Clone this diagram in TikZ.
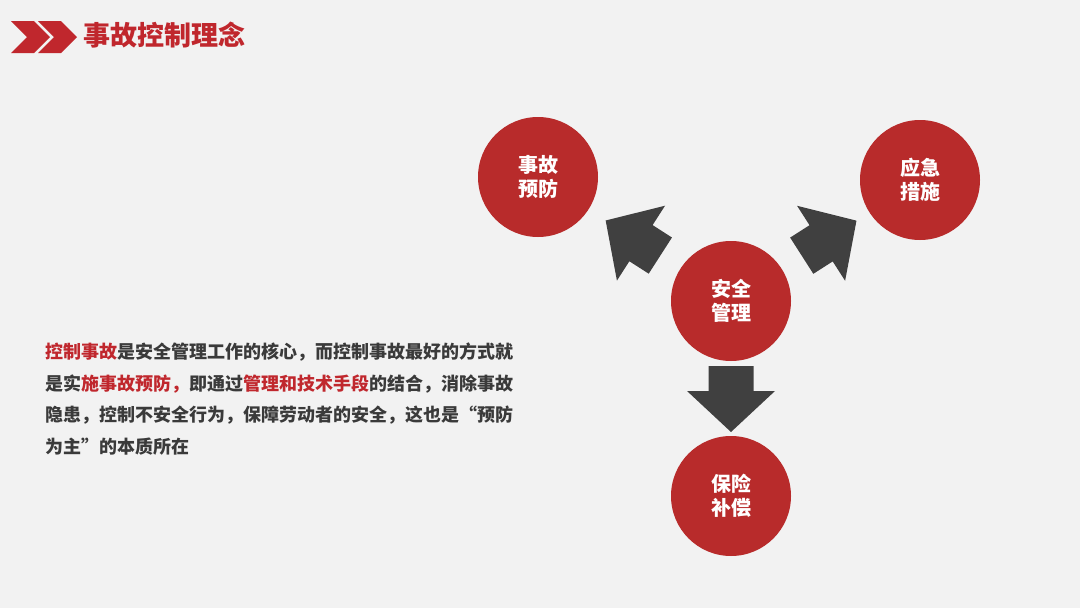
\documentclass[tikz,border=0pt]{standalone}
\usepackage{fontspec}
\newfontfamily\cjk{Noto Sans CJK SC}[RawFeature=+fwid]
\usetikzlibrary{calc}
\definecolor{bg}{HTML}{F2F2F2}
\definecolor{cred}{HTML}{B82B2B}
\definecolor{tred}{HTML}{C0272D}
\definecolor{arrc}{HTML}{404040}
\definecolor{txt}{HTML}{3A3A3A}
\newcommand\blockarrow[7]{% from, to, base dist, head dist, tip dist, shaft half, head half
  \coordinate (ab) at ($(#1)!#3!(#2)$);
  \coordinate (ah) at ($(#1)!#4!(#2)$);
  \coordinate (at) at ($(#1)!#5!(#2)$);
  \fill[arr] ($(ab)!#6!90:(#2)$) -- ($(ah)!#6!90:(#2)$) -- ($(ah)!#7!90:(#2)$) -- (at)
    -- ($(ah)!#7!-90:(#2)$) -- ($(ah)!#6!-90:(#2)$) -- ($(ab)!#6!-90:(#2)$) -- cycle;}
\begin{document}
\begin{tikzpicture}[x=1pt,y=-1pt,
  circ/.style={circle, fill=cred, minimum size=120pt, inner sep=0pt, text=white,
    font=\cjk\bfseries\fontsize{20}{24}\selectfont, align=center},
  arr/.style={fill=arrc},
  chev/.style={fill=tred},
  body/.style={anchor=base west, inner sep=0pt, text=txt, font=\cjk\bfseries\fontsize{18}{18}\selectfont},
  hl/.style={}]
\fill[bg] (0,0) rectangle (1080,608);
\useasboundingbox (0,0) rectangle (1080,608);
% header chevrons
\fill[chev] (11,21) -- (34,21) -- (50,37) -- (34,53) -- (11,53) -- (27,37) -- cycle;
\fill[chev] (38,21) -- (61,21) -- (77,37) -- (61,53) -- (38,53) -- (54,37) -- cycle;
\node[anchor=base west, inner sep=0pt, text=tred, font=\cjk\bfseries\fontsize{27}{27}\selectfont] (title) at (83,45.5) {事故控制理念};
% circles
\node[circ] (c) at (731,301) {安全\\管理};
\node[circ] (a) at (538,177) {事故\\预防};
\node[circ] (b) at (920,180) {应急\\措施};
\node[circ] (d) at (731,496) {保险\\补偿};
% block arrows
\blockarrow{c}{a}{84pt}{107pt}{149pt}{21.5pt}{44.5pt}
\blockarrow{c}{b}{84pt}{107pt}{149pt}{21.5pt}{44.5pt}
\blockarrow{c}{d}{65pt}{90pt}{131pt}{22.5pt}{44pt}
% body text
\node[body] (l1) at (45,358.5) {{\color{tred}控制事故}是安全管理工作的核心，而控制事故最好的方式就};
\node[body] (l2) at (45,390) {是实{\color{tred}施事故预防，}即通过{\color{tred}管理和技术手段}的结合，消除事故};
\node[body] (l3) at (45,421.8) {隐患，控制不安全行为，保障劳动者的安全，这也是“预防};
\node[body] (l4) at (45,453.5) {为主”的本质所在};
\end{tikzpicture}
\end{document}
